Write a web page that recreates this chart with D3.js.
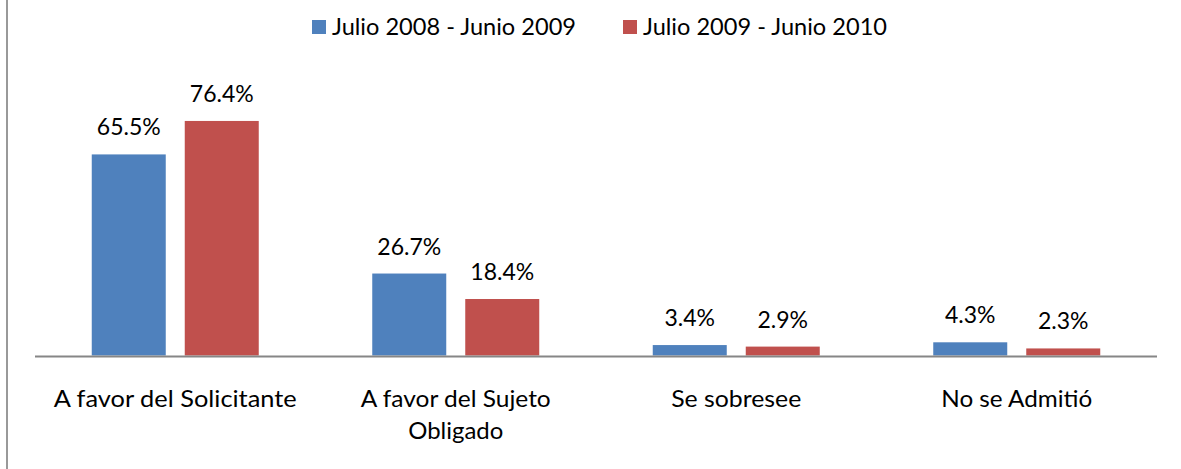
<!DOCTYPE html>
<html><head><meta charset="utf-8">
<script src="https://cdn.jsdelivr.net/npm/d3@7"></script>
<style>body{margin:0;background:#fff;} text{font-family:Lato,"Open Sans",sans-serif;fill:#000;}</style>
</head><body>
<svg id="c" width="1181" height="469"></svg>
<script>
const categories = [["A favor del Solicitante"], ["A favor del Sujeto", "Obligado"], ["Se sobresee"], ["No se Admitió"]];
const seriesNames = ["Julio 2008 - Junio 2009", "Julio 2009 - Junio 2010"];
const series1 = [65.5, 26.7, 3.4, 4.3];
const series2 = [76.4, 18.4, 2.9, 2.3];
const colors = ["#4F81BD", "#C0504D"];

const svg = d3.select("#c");
svg.append("rect").attr("x",0).attr("y",0).attr("width",1181).attr("height",469).attr("fill","#fff");
svg.append("line").attr("x1",7).attr("x2",7).attr("y1",0).attr("y2",469).attr("stroke","#999").attr("stroke-width",2);

// target label widths to mimic the reference's font metrics
const catWidths = [[243], [190, 95], [130], [151]];

const base = 355.5;
const y = d3.scaleLinear().domain([0, 90]).range([base, base - 90*3.07]);
const x0 = d3.scaleBand().domain(d3.range(categories.length)).range([35, 1157]);
const x1 = d3.scaleBand().domain([0,1]).range([56.75, x0.bandwidth()-56.75]).paddingInner(19/93).paddingOuter(0);

const data = categories.map((c,i)=>({c, v:[series1[i], series2[i]]}));
const g = svg.append("g");
data.forEach((d,i)=>{
  d.v.forEach((v,s)=>{
    const bx = x0(i) + x1(s);
    g.append("rect").attr("x",bx).attr("y",y(v)).attr("width",x1.bandwidth()).attr("height",base - y(v))
      .attr("fill",colors[s]);
    g.append("text").attr("x",bx + x1.bandwidth()/2).attr("y",y(v)-19).attr("text-anchor","middle")
      .attr("font-size","23px").text(v.toFixed(1)+"%");
  });
  d.c.forEach((line,k)=>{
    g.append("text").attr("text-anchor","middle").attr("font-size","24px")
      .attr("x", x0(i)+x0.bandwidth()/2).attr("y", 407 + k*31.5)
      .attr("textLength", catWidths[i][k]).attr("lengthAdjust","spacingAndGlyphs").text(line);
  });
});
svg.append("line").attr("x1",35).attr("x2",1157).attr("y1",356.5).attr("y2",356.5).attr("stroke","#868686").attr("stroke-width",2);

const legX = [312, 623];
seriesNames.forEach((n,s)=>{
  svg.append("rect").attr("x",legX[s]).attr("y",20).attr("width",14).attr("height",14).attr("fill",colors[s]);
  svg.append("text").attr("x",legX[s]+20).attr("y",34.5).attr("font-size","24px")
    .attr("textLength",244).attr("lengthAdjust","spacingAndGlyphs").text(n);
});
</script>
</body></html>
